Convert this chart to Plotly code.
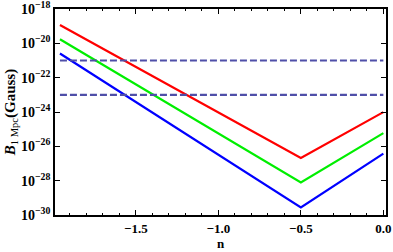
import plotly.graph_objects as go

n_vals = [-1.96, -0.5, 0.0]
red_vals = [1.17e-19, 2.1e-27, 9.8e-25]
green_vals = [1.74e-20, 7.9e-29, 5.9e-26]
blue_vals = [2.57e-21, 2.8e-30, 3.8e-27]
dash_n = [-1.96, 0.0]
dash_levels = [1e-21, 1e-23]

y_tick_vals = [1e-18, 1e-20, 1e-22, 1e-24, 1e-26, 1e-28, 1e-30]
y_tick_text = ["10<sup>−18</sup>", "10<sup>−20</sup>", "10<sup>−22</sup>", "10<sup>−24</sup>",
               "10<sup>−26</sup>", "10<sup>−28</sup>", "10<sup>−30</sup>"]
x_tick_vals = [-1.5, -1.0, -0.5, 0.0]
x_tick_text = ["−1.5", "−1.0", "−0.5", "0.0"]

fig = go.Figure()
for vals, col in [(red_vals, "#ff0000"), (green_vals, "#00ee00"), (blue_vals, "#0000ff")]:
    fig.add_trace(go.Scatter(x=n_vals, y=vals, mode="lines",
                             line=dict(color=col, width=2.2), showlegend=False))
for lvl in dash_levels:
    fig.add_trace(go.Scatter(x=dash_n, y=[lvl, lvl], mode="lines",
                             line=dict(color="#4f4fa8", width=2.2, dash="7px,3px"),
                             showlegend=False))

serif = "Liberation Serif"
fig.update_layout(
    width=393, height=252,
    margin=dict(l=55, r=7, t=9, b=37),
    plot_bgcolor="white", paper_bgcolor="white",
    font=dict(family=serif, color="black"),
)
fig.update_xaxes(
    range=[-1.99, 0.016], automargin=False, ticklabeloverflow="allow",
    tickvals=x_tick_vals, ticktext=x_tick_text,
    tickfont=dict(family=serif, size=13, weight="bold"),
    ticks="inside", ticklen=5, tickwidth=1.2, tickcolor="black",
    showline=True, linecolor="black", linewidth=1.8, mirror="allticks",
    showgrid=False, zeroline=False,
    minor=dict(dtick=0.1, tick0=0, ticks="inside", ticklen=2.5, tickwidth=1, tickcolor="black", showgrid=False),
    title=dict(text="<b>n</b>", font=dict(family=serif, size=13), standoff=4),
)
fig.update_yaxes(
    type="log", range=[-30, -18], automargin=False, ticklabeloverflow="allow",
    tickvals=y_tick_vals, ticktext=y_tick_text,
    tickfont=dict(family=serif, size=14, weight="bold"),
    ticks="inside", ticklen=5, tickwidth=1.2, tickcolor="black",
    showline=True, linecolor="black", linewidth=1.8, mirror="allticks",
    showgrid=False, zeroline=False,
    title=dict(text="<b><i>B</i></b><sub>1 Mpc</sub><b>(Gauss)</b>", font=dict(family=serif, size=15), standoff=2),
)

fig.write_html("out.html", config={"displayModeBar": False},
               post_script="document.body.style.margin='0';")
